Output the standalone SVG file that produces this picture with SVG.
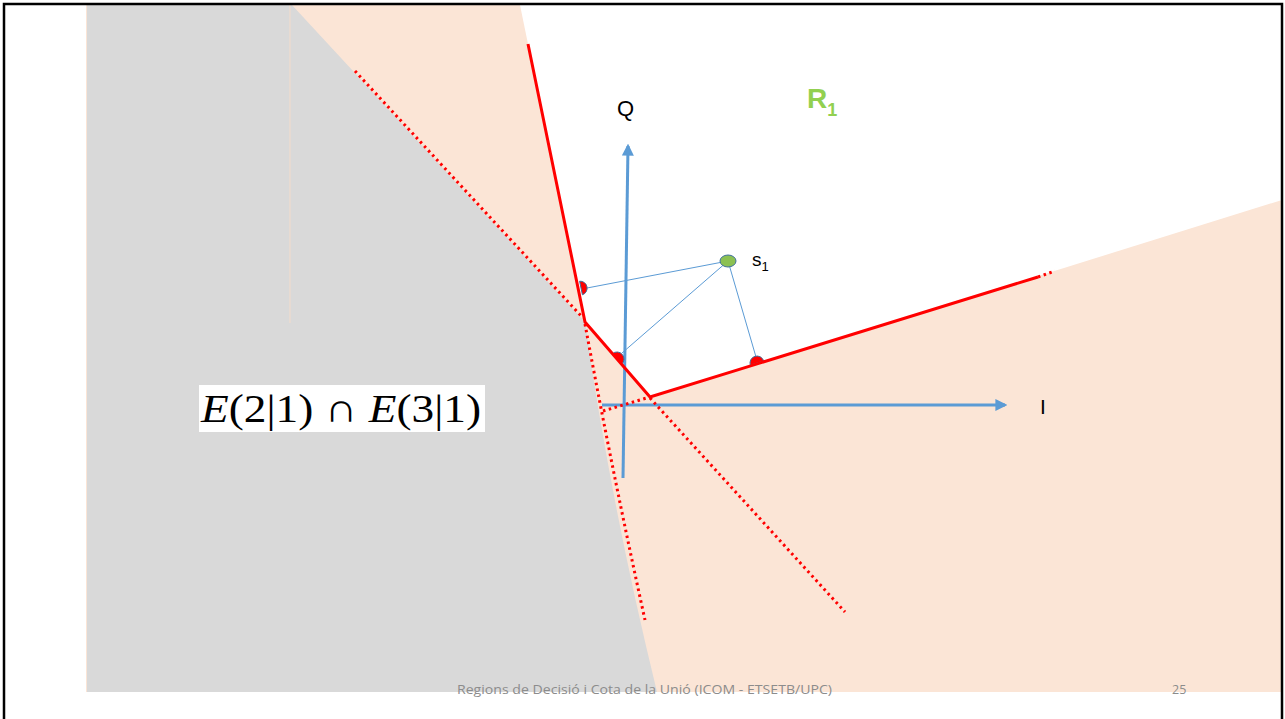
<svg xmlns="http://www.w3.org/2000/svg" width="1285" height="719" viewBox="0 0 1285 719">
<style>
.lbl{font-family:"Liberation Sans","DejaVu Sans",sans-serif;fill:#000}
.red{stroke:#ff0000;fill:none}
.dot{stroke:#ff0000;stroke-width:3;stroke-dasharray:2.5 3.5;fill:none}
.thin{stroke:#5b9bd5;stroke-width:1;fill:none}
.axis{stroke:#5b9bd5;stroke-width:3;fill:none}
.pt{fill:#ff0000;stroke:#41719c;stroke-width:1}
</style>
<defs>
<marker id="ah" viewBox="0 0 10 10" refX="8" refY="5" markerWidth="4" markerHeight="4" orient="auto" markerUnits="strokeWidth">
<path d="M0,0 L10,5 L0,10 Z" fill="#5b9bd5"/>
</marker>
</defs>
<rect x="0" y="0" width="1285" height="719" fill="#ffffff"/>
<g id="regions">
<rect x="86" y="5" width="1196" height="687" fill="#fbe5d6"/>
<polygon points="520,5 1282,5 1282,200 650,397 585,322" fill="#ffffff"/>
<path d="M87,5 L292,5 L585,322 Q610,500 657,692 L87,692 Z" fill="#d9d9d9"/>
<line x1="290" y1="5" x2="290" y2="323" stroke="#f4dccb" stroke-width="1"/>
</g>
<g id="connectors">
<line class="thin" x1="728" y1="261" x2="587" y2="288"/>
<line class="thin" x1="728" y1="261" x2="622" y2="353"/>
<line class="thin" x1="728" y1="261" x2="756" y2="357"/>
<line class="axis" x1="623" y1="478" x2="628" y2="146" marker-end="url(#ah)"/>
<line class="axis" x1="602" y1="405" x2="1005" y2="405" marker-end="url(#ah)"/>
<line class="dot" x1="355" y1="71" x2="583" y2="318"/>
<path class="dot" d="M585,324 Q612,470 645,620"/>
<line class="dot" x1="650" y1="398" x2="845" y2="612"/>
<line class="dot" x1="603" y1="411" x2="650" y2="397"/>
<line class="dot" x1="1038" y1="277" x2="1055" y2="271"/>
</g>
<g id="points">
<path class="pt" d="M579.6,281.2 A7,7 0 0 1 582.4,294.8 Z"/>
<path class="pt" d="M612.4,353.7 A7,7 0 0 1 621.6,364.3 Z"/>
<path class="pt" d="M750.3,365.1 A7,7 0 0 1 763.7,361.0 Z"/>
<ellipse cx="728" cy="261" rx="8" ry="6" fill="#8cc152" stroke="#41719c" stroke-width="1"/>
</g>
<g id="boundary">
<polyline class="red" stroke-width="3" points="528,44 585,322 650,397 1038,277"/>
</g>
<g id="labels">
<text class="lbl" x="617" y="116" font-size="22">Q</text>
<text class="lbl" x="1040" y="414" font-size="21">I</text>
<text x="807" y="108" font-family="Liberation Sans, DejaVu Sans, sans-serif" font-weight="bold" font-size="28" fill="#92d050">R<tspan font-size="18" dy="8">1</tspan></text>
<text class="lbl" x="752" y="266" font-size="19">s<tspan font-size="13" dy="5">1</tspan></text>
</g>
<g id="formula">
<rect x="199" y="385" width="286" height="47" fill="#ffffff"/>
<text x="201" y="422" font-family="Liberation Serif, DejaVu Serif, serif" font-size="41" fill="#000" textLength="280" lengthAdjust="spacingAndGlyphs"><tspan font-style="italic">E</tspan>(2|1) ∩ <tspan font-style="italic">E</tspan>(3|1)</text>
</g>
<g id="footer">
<text x="457" y="694" font-family="Open Sans, Liberation Sans, sans-serif" font-size="12.5" fill="#8c8c8c" textLength="375" lengthAdjust="spacingAndGlyphs">Regions de Decisió i Cota de la Unió (ICOM - ETSETB/UPC)</text>
<text x="1172" y="694" font-family="Open Sans, Liberation Sans, sans-serif" font-size="12.5" fill="#8c8c8c">25</text>
</g>
<rect x="4" y="4" width="1278" height="730" fill="none" stroke="#000" stroke-width="2.5"/>
</svg>
